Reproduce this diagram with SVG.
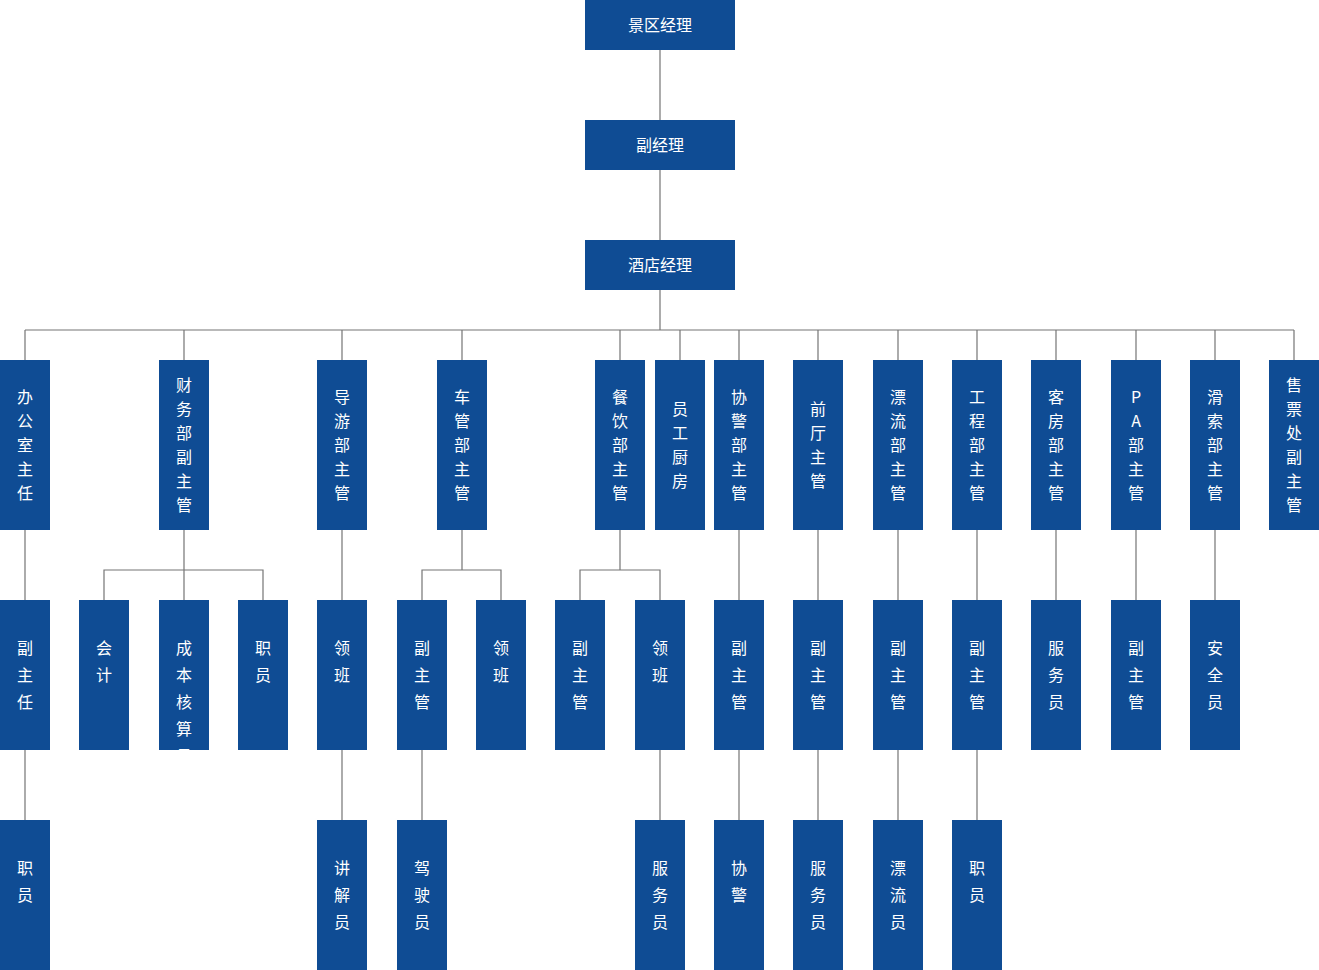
<svg xmlns="http://www.w3.org/2000/svg" width="1319" height="970" viewBox="0 0 1319 970">
<defs>
<style>
.b{fill:#0f4c94}
.t{fill:#ffffff;font-family:"Noto Sans CJK SC","Noto Sans",sans-serif;font-size:16px;text-anchor:middle}
.c{stroke:#757575;stroke-width:1.2;fill:none}
</style>
<clipPath id="clipcb"><rect x="159" y="600" width="50" height="150"/></clipPath>
</defs>
<rect width="1319" height="970" fill="#ffffff"/>
<g id="connectors" class="c">
<path d="M660 50V120M660 170V240M660 290V330M25 330H1294"/>
<path d="M25 330V360M184 330V360M342 330V360M462 330V360M620 330V360M680 330V360M739 330V360M818 330V360M898 330V360M977 330V360M1056 330V360M1136 330V360M1215 330V360M1294 330V360"/>
<path d="M25 530V600M342 530V600M739 530V600M818 530V600M898 530V600M977 530V600M1056 530V600M1136 530V600M1215 530V600"/>
<path d="M184 530V570M104 600V570H263V600M184 570V600"/>
<path d="M462 530V570M422 600V570H501V600"/>
<path d="M620 530V570M580 600V570H660V600"/>
<path d="M25 750V820M342 750V820M422 750V820M660 750V820M739 750V820M818 750V820M898 750V820M977 750V820"/>
</g>
<g id="n-jq"><rect class="b" x="585" y="0" width="150" height="50"/><text class="t" x="660" y="30.5">景区经理</text></g>
<g id="n-fjl"><rect class="b" x="585" y="120" width="150" height="50"/><text class="t" x="660" y="150.5">副经理</text></g>
<g id="n-jd"><rect class="b" x="585" y="240" width="150" height="50"/><text class="t" x="660" y="270.5">酒店经理</text></g>

<g id="n1-bgs"><rect class="b" x="0" y="360" width="50" height="170"/><text class="t"><tspan x="25" y="402.5">办</tspan><tspan x="25" y="426.5">公</tspan><tspan x="25" y="450.5">室</tspan><tspan x="25" y="474.5">主</tspan><tspan x="25" y="498.5">任</tspan></text></g>
<g id="n1-cw"><rect class="b" x="159" y="360" width="50" height="170"/><text class="t"><tspan x="184" y="390.5">财</tspan><tspan x="184" y="414.5">务</tspan><tspan x="184" y="438.5">部</tspan><tspan x="184" y="462.5">副</tspan><tspan x="184" y="486.5">主</tspan><tspan x="184" y="510.5">管</tspan></text></g>
<g id="n1-dy"><rect class="b" x="317" y="360" width="50" height="170"/><text class="t"><tspan x="342" y="402.5">导</tspan><tspan x="342" y="426.5">游</tspan><tspan x="342" y="450.5">部</tspan><tspan x="342" y="474.5">主</tspan><tspan x="342" y="498.5">管</tspan></text></g>
<g id="n1-cg"><rect class="b" x="437" y="360" width="50" height="170"/><text class="t"><tspan x="462" y="402.5">车</tspan><tspan x="462" y="426.5">管</tspan><tspan x="462" y="450.5">部</tspan><tspan x="462" y="474.5">主</tspan><tspan x="462" y="498.5">管</tspan></text></g>
<g id="n1-cy"><rect class="b" x="595" y="360" width="50" height="170"/><text class="t"><tspan x="620" y="402.5">餐</tspan><tspan x="620" y="426.5">饮</tspan><tspan x="620" y="450.5">部</tspan><tspan x="620" y="474.5">主</tspan><tspan x="620" y="498.5">管</tspan></text></g>
<g id="n1-ygcf"><rect class="b" x="655" y="360" width="50" height="170"/><text class="t"><tspan x="680" y="414.5">员</tspan><tspan x="680" y="438.5">工</tspan><tspan x="680" y="462.5">厨</tspan><tspan x="680" y="486.5">房</tspan></text></g>
<g id="n1-xj"><rect class="b" x="714" y="360" width="50" height="170"/><text class="t"><tspan x="739" y="402.5">协</tspan><tspan x="739" y="426.5">警</tspan><tspan x="739" y="450.5">部</tspan><tspan x="739" y="474.5">主</tspan><tspan x="739" y="498.5">管</tspan></text></g>
<g id="n1-qt"><rect class="b" x="793" y="360" width="50" height="170"/><text class="t"><tspan x="818" y="414.5">前</tspan><tspan x="818" y="438.5">厅</tspan><tspan x="818" y="462.5">主</tspan><tspan x="818" y="486.5">管</tspan></text></g>
<g id="n1-pl"><rect class="b" x="873" y="360" width="50" height="170"/><text class="t"><tspan x="898" y="402.5">漂</tspan><tspan x="898" y="426.5">流</tspan><tspan x="898" y="450.5">部</tspan><tspan x="898" y="474.5">主</tspan><tspan x="898" y="498.5">管</tspan></text></g>
<g id="n1-gc"><rect class="b" x="952" y="360" width="50" height="170"/><text class="t"><tspan x="977" y="402.5">工</tspan><tspan x="977" y="426.5">程</tspan><tspan x="977" y="450.5">部</tspan><tspan x="977" y="474.5">主</tspan><tspan x="977" y="498.5">管</tspan></text></g>
<g id="n1-kf"><rect class="b" x="1031" y="360" width="50" height="170"/><text class="t"><tspan x="1056" y="402.5">客</tspan><tspan x="1056" y="426.5">房</tspan><tspan x="1056" y="450.5">部</tspan><tspan x="1056" y="474.5">主</tspan><tspan x="1056" y="498.5">管</tspan></text></g>
<g id="n1-pa"><rect class="b" x="1111" y="360" width="50" height="170"/><text class="t"><tspan x="1136" y="402.5">P</tspan><tspan x="1136" y="426.5">A</tspan><tspan x="1136" y="450.5">部</tspan><tspan x="1136" y="474.5">主</tspan><tspan x="1136" y="498.5">管</tspan></text></g>
<g id="n1-hs"><rect class="b" x="1190" y="360" width="50" height="170"/><text class="t"><tspan x="1215" y="402.5">滑</tspan><tspan x="1215" y="426.5">索</tspan><tspan x="1215" y="450.5">部</tspan><tspan x="1215" y="474.5">主</tspan><tspan x="1215" y="498.5">管</tspan></text></g>
<g id="n1-spc"><rect class="b" x="1269" y="360" width="50" height="170"/><text class="t"><tspan x="1294" y="390.5">售</tspan><tspan x="1294" y="414.5">票</tspan><tspan x="1294" y="438.5">处</tspan><tspan x="1294" y="462.5">副</tspan><tspan x="1294" y="486.5">主</tspan><tspan x="1294" y="510.5">管</tspan></text></g>

<g id="n2-fzr"><rect class="b" x="0" y="600" width="50" height="150"/><text class="t"><tspan x="25" y="653.5">副</tspan><tspan x="25" y="680.5">主</tspan><tspan x="25" y="707.5">任</tspan></text></g>
<g id="n2-kj"><rect class="b" x="79" y="600" width="50" height="150"/><text class="t"><tspan x="104" y="653.5">会</tspan><tspan x="104" y="680.5">计</tspan></text></g>
<g id="n2-cbhs"><rect class="b" x="159" y="600" width="50" height="150"/><text class="t" clip-path="url(#clipcb)"><tspan x="184" y="653.5">成</tspan><tspan x="184" y="680.5">本</tspan><tspan x="184" y="707.5">核</tspan><tspan x="184" y="734.5">算</tspan><tspan x="184" y="761.5">员</tspan></text></g>
<g id="n2-zy"><rect class="b" x="238" y="600" width="50" height="150"/><text class="t"><tspan x="263" y="653.5">职</tspan><tspan x="263" y="680.5">员</tspan></text></g>
<g id="n2-lb1"><rect class="b" x="317" y="600" width="50" height="150"/><text class="t"><tspan x="342" y="653.5">领</tspan><tspan x="342" y="680.5">班</tspan></text></g>
<g id="n2-fzg1"><rect class="b" x="397" y="600" width="50" height="150"/><text class="t"><tspan x="422" y="653.5">副</tspan><tspan x="422" y="680.5">主</tspan><tspan x="422" y="707.5">管</tspan></text></g>
<g id="n2-lb2"><rect class="b" x="476" y="600" width="50" height="150"/><text class="t"><tspan x="501" y="653.5">领</tspan><tspan x="501" y="680.5">班</tspan></text></g>
<g id="n2-fzg2"><rect class="b" x="555" y="600" width="50" height="150"/><text class="t"><tspan x="580" y="653.5">副</tspan><tspan x="580" y="680.5">主</tspan><tspan x="580" y="707.5">管</tspan></text></g>
<g id="n2-lb3"><rect class="b" x="635" y="600" width="50" height="150"/><text class="t"><tspan x="660" y="653.5">领</tspan><tspan x="660" y="680.5">班</tspan></text></g>
<g id="n2-fzg3"><rect class="b" x="714" y="600" width="50" height="150"/><text class="t"><tspan x="739" y="653.5">副</tspan><tspan x="739" y="680.5">主</tspan><tspan x="739" y="707.5">管</tspan></text></g>
<g id="n2-fzg4"><rect class="b" x="793" y="600" width="50" height="150"/><text class="t"><tspan x="818" y="653.5">副</tspan><tspan x="818" y="680.5">主</tspan><tspan x="818" y="707.5">管</tspan></text></g>
<g id="n2-fzg5"><rect class="b" x="873" y="600" width="50" height="150"/><text class="t"><tspan x="898" y="653.5">副</tspan><tspan x="898" y="680.5">主</tspan><tspan x="898" y="707.5">管</tspan></text></g>
<g id="n2-fzg6"><rect class="b" x="952" y="600" width="50" height="150"/><text class="t"><tspan x="977" y="653.5">副</tspan><tspan x="977" y="680.5">主</tspan><tspan x="977" y="707.5">管</tspan></text></g>
<g id="n2-fwy1"><rect class="b" x="1031" y="600" width="50" height="150"/><text class="t"><tspan x="1056" y="653.5">服</tspan><tspan x="1056" y="680.5">务</tspan><tspan x="1056" y="707.5">员</tspan></text></g>
<g id="n2-fzg7"><rect class="b" x="1111" y="600" width="50" height="150"/><text class="t"><tspan x="1136" y="653.5">副</tspan><tspan x="1136" y="680.5">主</tspan><tspan x="1136" y="707.5">管</tspan></text></g>
<g id="n2-aqy"><rect class="b" x="1190" y="600" width="50" height="150"/><text class="t"><tspan x="1215" y="653.5">安</tspan><tspan x="1215" y="680.5">全</tspan><tspan x="1215" y="707.5">员</tspan></text></g>

<g id="n3-zy1"><rect class="b" x="0" y="820" width="50" height="150"/><text class="t"><tspan x="25" y="873.5">职</tspan><tspan x="25" y="900.5">员</tspan></text></g>
<g id="n3-jjy"><rect class="b" x="317" y="820" width="50" height="150"/><text class="t"><tspan x="342" y="873.5">讲</tspan><tspan x="342" y="900.5">解</tspan><tspan x="342" y="927.5">员</tspan></text></g>
<g id="n3-jsy"><rect class="b" x="397" y="820" width="50" height="150"/><text class="t"><tspan x="422" y="873.5">驾</tspan><tspan x="422" y="900.5">驶</tspan><tspan x="422" y="927.5">员</tspan></text></g>
<g id="n3-fwy2"><rect class="b" x="635" y="820" width="50" height="150"/><text class="t"><tspan x="660" y="873.5">服</tspan><tspan x="660" y="900.5">务</tspan><tspan x="660" y="927.5">员</tspan></text></g>
<g id="n3-xj"><rect class="b" x="714" y="820" width="50" height="150"/><text class="t"><tspan x="739" y="873.5">协</tspan><tspan x="739" y="900.5">警</tspan></text></g>
<g id="n3-fwy3"><rect class="b" x="793" y="820" width="50" height="150"/><text class="t"><tspan x="818" y="873.5">服</tspan><tspan x="818" y="900.5">务</tspan><tspan x="818" y="927.5">员</tspan></text></g>
<g id="n3-ply"><rect class="b" x="873" y="820" width="50" height="150"/><text class="t"><tspan x="898" y="873.5">漂</tspan><tspan x="898" y="900.5">流</tspan><tspan x="898" y="927.5">员</tspan></text></g>
<g id="n3-zy2"><rect class="b" x="952" y="820" width="50" height="150"/><text class="t"><tspan x="977" y="873.5">职</tspan><tspan x="977" y="900.5">员</tspan></text></g>
</svg>
